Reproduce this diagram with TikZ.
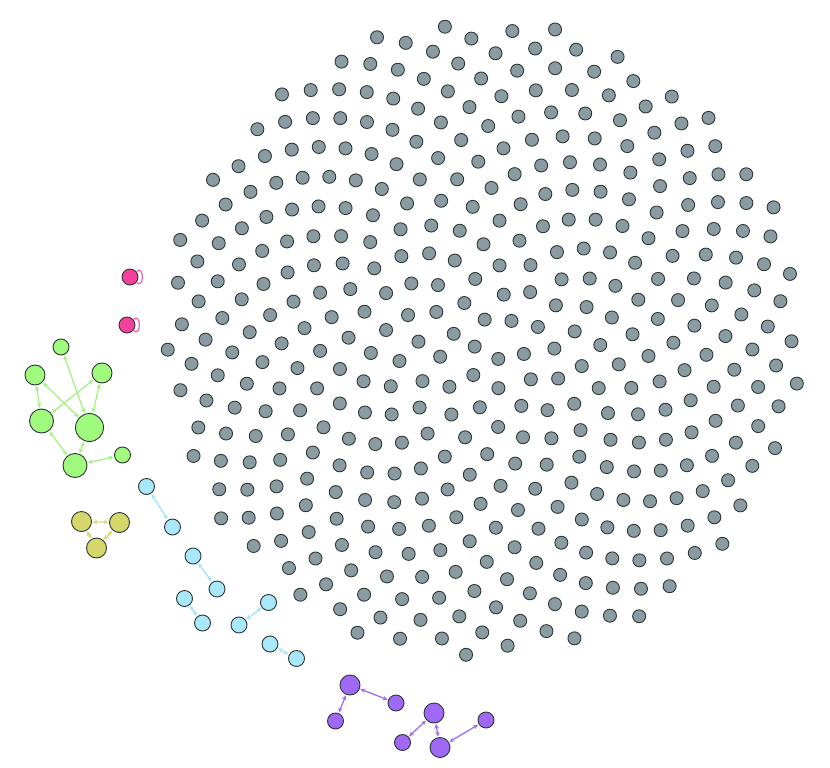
\documentclass[tikz,border=0pt]{standalone}
\usepackage{xfp}
\usetikzlibrary{arrows.meta}
\definecolor{bd}{RGB}{45,55,55}
\definecolor{grayfill}{RGB}{138,156,162}
\definecolor{pinkfill}{RGB}{245,65,155}
\definecolor{pinkline}{RGB}{245,95,175}
\definecolor{greenfill}{RGB}{160,250,125}
\definecolor{greenline}{RGB}{165,240,135}
\definecolor{yellowfill}{RGB}{213,215,106}
\definecolor{yellowline}{RGB}{215,215,130}
\definecolor{bluefill}{RGB}{168,232,250}
\definecolor{blueline}{RGB}{165,228,250}
\definecolor{purplefill}{RGB}{160,105,245}
\definecolor{purpleline}{RGB}{160,110,240}
\tikzset{
  nd/.style={circle, draw=bd, line width=0.9pt, inner sep=0pt},
  gnode/.style={nd, fill=grayfill, minimum size=13pt},
  pnode/.style={nd, fill=pinkfill, minimum size=16pt},
  grn/.style={nd, fill=greenfill, minimum size=#1},
  yel/.style={nd, fill=yellowfill, minimum size=20pt},
  blu/.style={nd, fill=bluefill, minimum size=16pt},
  pur/.style={nd, fill=purplefill, minimum size=#1},
  link/.style={<->, >={Stealth[length=5pt,width=4.5pt]}, line width=1.3pt, shorten <=0.5pt, shorten >=0.5pt},
  glink/.style={link, draw=greenline},
  ylink/.style={link, draw=yellowline},
  blink/.style={link, draw=blueline},
  plink/.style={link, draw=purpleline},
  ploop/.style={draw=pinkline, line width=1.2pt},
}
\begin{document}
\begin{tikzpicture}[x=1pt,y=-1pt]
\useasboundingbox (0,0) rectangle (830,768);
% large disc of isolated nodes
\foreach \i in {1,...,405}{
  \edef\xx{\fpeval{round(483+15.9*sqrt(\i-0.5)*cosd(\i*137.50776),3)}}
  \edef\yy{\fpeval{round(339+15.9*sqrt(\i-0.5)*sind(\i*137.50776),3)}}
  \node[gnode] (g\i) at (\xx,\yy) {};
}
% pink self loops (drawn first so the node covers the loop ends)
\coordinate (p1c) at (130,277);
\coordinate (p2c) at (127,325);
\node[pnode] (p1) at (p1c) {};
\node[pnode] (p2) at (p2c) {};
\draw[ploop] (p1.40) .. controls +(45:11pt) and +(-45:11pt) .. (p1.-40);
\draw[ploop] (p2.40) .. controls +(45:11pt) and +(-45:11pt) .. (p2.-40);
% green component
\node[grn=16pt] (gA) at (61,347) {};
\node[grn=20pt] (gB) at (35,375) {};
\node[grn=20pt] (gC) at (102,373) {};
\node[grn=24pt] (gD) at (41.5,421) {};
\node[grn=28pt] (gE) at (89.5,427.5) {};
\node[grn=24pt] (gF) at (75,465.5) {};
\node[grn=16pt] (gG) at (122.5,455) {};
\draw[glink] (gA) -- (gE);
\draw[glink] (gB) -- (gD);
\draw[glink] (gB) -- (gE);
\draw[glink] (gC) -- (gD);
\draw[glink] (gC) -- (gE);
\draw[glink] (gD) -- (gF);
\draw[glink] (gE) -- (gF);
\draw[glink] (gF) -- (gG);
% yellow triangle
\node[yel] (y1) at (81.5,521.5) {};
\node[yel] (y2) at (119.5,522.5) {};
\node[yel] (y3) at (96.5,548) {};
\draw[ylink] (y1) -- (y2);
\draw[ylink] (y1) -- (y3);
\draw[ylink] (y2) -- (y3);
% blue pairs
\node[blu] (b1) at (146.5,486.5) {};
\node[blu] (b2) at (172.5,527) {};
\node[blu] (b3) at (193,556) {};
\node[blu] (b4) at (217,589) {};
\node[blu] (b5) at (184.5,598.5) {};
\node[blu] (b6) at (202.5,623) {};
\node[blu] (b7) at (268.5,602.5) {};
\node[blu] (b8) at (239,625) {};
\node[blu] (b9) at (270,644) {};
\node[blu] (b10) at (296.5,658.5) {};
\draw[blink] (b1) -- (b2);
\draw[blink] (b3) -- (b4);
\draw[blink] (b5) -- (b6);
\draw[blink] (b7) -- (b8);
\draw[blink] (b9) -- (b10);
% purple components
\node[pur=20pt] (q1) at (350,685) {};
\node[pur=16pt] (q2) at (396,703) {};
\node[pur=16pt] (q3) at (335.5,721) {};
\node[pur=20pt] (q4) at (434,713) {};
\node[pur=16pt] (q5) at (402.5,742.5) {};
\node[pur=20pt] (q6) at (440,747.5) {};
\node[pur=16pt] (q7) at (486,720) {};
\draw[plink] (q1) -- (q2);
\draw[plink] (q1) -- (q3);
\draw[plink] (q4) -- (q5);
\draw[plink] (q4) -- (q6);
\draw[plink] (q6) -- (q7);
\end{tikzpicture}
\end{document}
